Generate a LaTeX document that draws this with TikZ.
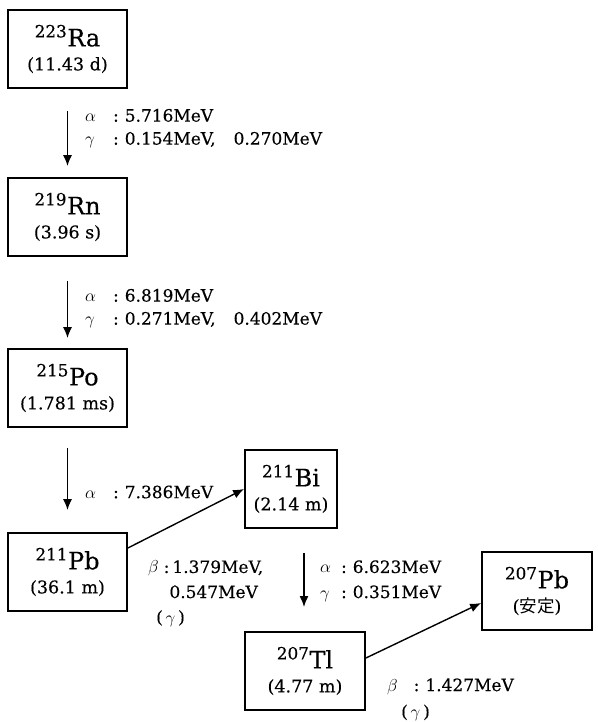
\documentclass[tikz,border=0pt]{standalone}
\usepackage{fontspec}
\setmainfont{DejaVu Serif}[FakeBold=0.3]
\newfontfamily\jpfont{Noto Sans CJK JP}
\usetikzlibrary{arrows.meta,calc}
\newcommand\nuclbox[3]{{\fontsize{24}{27}\selectfont\textsuperscript{#1}#2}\\[-3pt]{\fontsize{17.5}{21}\selectfont #3}}
\begin{document}
\begin{tikzpicture}[x=1pt,y=-1pt,
  box/.style={draw, line width=1.8pt, minimum width=119pt, minimum height=78pt, inner sep=0pt, align=center, font=\fontsize{24}{27}\selectfont},
  arr/.style={line width=1.4pt, -{Latex[length=11pt,width=9pt]}},
  lbl/.style={anchor=west, inner sep=0pt, font=\fontsize{17}{23}\selectfont}]
\useasboundingbox[fill=white] (0,0) rectangle (597,722);
% boxes
\node[box] (Ra) at (67.5,49) {\nuclbox{223}{Ra}{(11.43 d)}};
\node[box] (Rn) at (67.5,217) {\nuclbox{219}{Rn}{(3.96 s)}};
\node[box] (Po) at (67.5,388) {\nuclbox{215}{Po}{(1.781 ms)}};
\node[box] (PbA) at (67.5,572) {\nuclbox{211}{Pb}{(36.1 m)}};
\node[box, minimum width=92pt] (Bi) at (291,489) {\nuclbox{211}{Bi}{(2.14 m)}};
\node[box, minimum width=120pt] (Tl) at (305,671) {\nuclbox{207}{Tl}{(4.77 m)}};
\node[box, minimum width=110pt] (PbB) at (537,591) {\nuclbox{207}{Pb}{({\jpfont 安定})}};
% arrows
\draw[arr, shorten <=22pt, shorten >=11pt] (Ra) -- (Rn);
\draw[arr, shorten <=24pt, shorten >=10pt] (Rn) -- (Po);
\draw[arr, shorten <=20pt, shorten >=22pt] (Po) -- (PbA);
\draw[arr] ([yshift=24pt]PbA.east) -- (Bi.west);
\coordinate (biA) at ($(Bi.south)+(13,24)$);
\coordinate (biB) at (304,607);
\draw[arr] (biA) -- (biB);
\draw[arr] ([yshift=13pt]Tl.east) -- ([yshift=-12pt]PbB.west);
% labels
\node[lbl] (l1) at (85,128.5) {\begin{tabular}{@{}l@{\hspace{17pt}:\hspace{6pt}}l@{}}$\alpha$ & 5.716MeV\\ $\gamma$ & 0.154MeV,\hspace{18pt}0.270MeV\end{tabular}};
\node[lbl] (l2) at (85,308.5) {\begin{tabular}{@{}l@{\hspace{17pt}:\hspace{6pt}}l@{}}$\alpha$ & 6.819MeV\\ $\gamma$ & 0.271MeV,\hspace{18pt}0.402MeV\end{tabular}};
\node[lbl] (l3) at (85,492) {$\alpha$\hspace{17pt}:\hspace{6pt}7.386MeV};
\node[lbl] (l4) at (148,593) {\renewcommand\arraystretch{1.09}\begin{tabular}{@{}r@{}}$\beta$\hspace{5pt}:\hspace{3pt}1.379MeV,\\ 0.547MeV\phantom{,}\\ \multicolumn{1}{@{}l@{}}{\hspace{8pt}(\,$\gamma$\,)}\end{tabular}};
\node[lbl] (l5) at (320,580.5) {\renewcommand\arraystretch{1.09}\begin{tabular}{@{}l@{\hspace{10pt}:\hspace{6pt}}l@{}}$\alpha$ & 6.623MeV\\ $\gamma$ & 0.351MeV\end{tabular}};
\node[lbl] (l6) at (387,699) {\renewcommand\arraystretch{1.15}\begin{tabular}{@{}l@{}}$\beta$\hspace{16pt}:\hspace{6pt}1.427MeV\\ \hspace{14pt}(\,$\gamma$\,)\end{tabular}};
\end{tikzpicture}
\end{document}
